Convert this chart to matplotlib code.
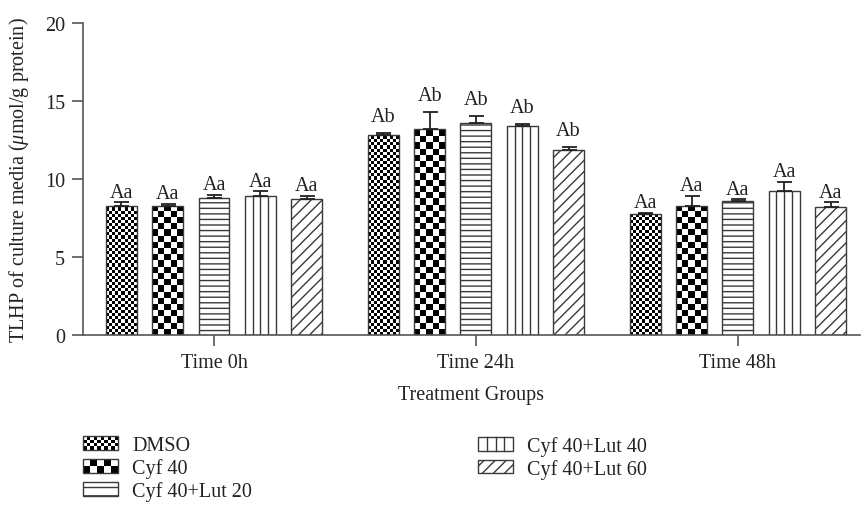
import numpy as np
import matplotlib
matplotlib.use("Agg")
import matplotlib.pyplot as plt
from matplotlib.patches import Rectangle, Patch
from matplotlib.lines import Line2D
from matplotlib.legend_handler import HandlerBase

plt.rcParams["font.family"] = ["Liberation Serif", "DejaVu Serif"]
plt.rcParams["mathtext.fontset"] = "custom"
plt.rcParams["mathtext.rm"] = "Liberation Serif"
plt.rcParams["mathtext.it"] = "Liberation Serif:italic"
plt.rcParams["hatch.linewidth"] = 1.0

## data
groups = ["Time 0h", "Time 24h", "Time 48h"]
treatments = ["DMSO", "Cyf 40", "Cyf 40+Lut 20", "Cyf 40+Lut 40", "Cyf 40+Lut 60"]
dmso = [8.3, 12.85, 7.75]
dmso_err = [0.2, 0.1, 0.1]
cyf40 = [8.25, 13.2, 8.3]
cyf40_err = [0.15, 1.1, 0.6]
lut20 = [8.8, 13.6, 8.6]
lut20_err = [0.2, 0.45, 0.1]
lut40 = [8.9, 13.4, 9.2]
lut40_err = [0.3, 0.1, 0.6]
lut60 = [8.75, 11.85, 8.2]
lut60_err = [0.15, 0.2, 0.3]
letters = ["Aa", "Ab", "Aa"]

means = [dmso, cyf40, lut20, lut40, lut60]
errs = [dmso_err, cyf40_err, lut20_err, lut40_err, lut60_err]

EDGE = "#3a3a3a"
TXT = "#222222"
FS = 14.5
label_gap = [0.5, 5, 0.5]   # points above the cap, per time group

fig = plt.figure(figsize=(8.62, 5.10), dpi=100)
ax = fig.add_axes([83 / 862, 1 - 336 / 510, (860 - 83) / 862, (336 - 24) / 510])
ax.set_xlim(-0.5, 2.466)
ax.set_ylim(0, 20)

x = np.arange(len(groups))
step = 0.1767
width = 0.118


def checker(bar, cell_px):
    x0, y0 = bar.get_x(), bar.get_y()
    w, h = bar.get_width(), bar.get_height()
    p0 = ax.transData.transform((x0, y0))
    p1 = ax.transData.transform((x0 + w, y0 + h))
    nx = max(1, int(round((p1[0] - p0[0]) / cell_px)))
    ny = max(1, int(round((p1[1] - p0[1]) / cell_px)))
    arr = np.add.outer(np.arange(ny), np.arange(nx)) % 2
    top = y0 + ny * cell_px * h / (p1[1] - p0[1])
    im = ax.imshow(arr, cmap="gray", vmin=0, vmax=1, origin="lower",
                   extent=(x0, x0 + w, y0, top), aspect="auto",
                   interpolation="nearest", zorder=1.5)
    im.set_clip_path(bar)


for i, (m, e) in enumerate(zip(means, errs)):
    pos = x + (i - 2) * step
    hatch = {2: "---", 4: "///"}.get(i, None)
    bars = ax.bar(pos, m, width, facecolor="none", edgecolor=EDGE,
                  linewidth=1.0, hatch=hatch, zorder=2)
    if i == 0:
        for b in bars:
            checker(b, 3.1)
    elif i == 1:
        for b in bars:
            checker(b, 6.2)
    elif i == 3:
        for p, v in zip(pos, m):
            ax.vlines([p - width / 4, p, p + width / 4], 0, v,
                      colors=EDGE, linewidth=1.0, zorder=2)
    ax.errorbar(pos, m, yerr=[np.zeros(len(m)), e], fmt="none",
                ecolor="#222", elinewidth=1.3, capsize=5.4, capthick=1.3,
                zorder=3)
    for p, v, ee, lab, g in zip(pos, m, e, letters, label_gap):
        ax.annotate(lab, (p, v + ee), xytext=(0, g), textcoords="offset points",
                    ha="center", va="bottom", fontsize=FS, color=TXT)

ax.set_xlim(-0.5, 2.466)
ax.set_ylim(0, 20)
ax.set_xticks(x)
ax.set_xticklabels(groups)
ax.set_yticks([0, 5, 10, 15, 20])
for s in ["top", "right"]:
    ax.spines[s].set_visible(False)
for s in ["left", "bottom"]:
    ax.spines[s].set_color("#555")
    ax.spines[s].set_linewidth(1.2)
ax.tick_params(length=8, width=1.2, color="#555", labelsize=FS,
               labelcolor=TXT, pad=5)
ax.set_ylabel(r"TLHP of culture media ($\mu$mol/g protein)", fontsize=FS,
              color=TXT, labelpad=10)
ax.set_xlabel("Treatment Groups", fontsize=FS, color=TXT, labelpad=9)


class CheckerHandler(HandlerBase):
    def __init__(self, nx, ny):
        super().__init__()
        self.nx, self.ny = nx, ny

    def create_artists(self, legend, orig_handle, xdescent, ydescent,
                       width, height, fontsize, trans):
        arts = []
        cw, ch = width / self.nx, height / self.ny
        for i in range(self.nx):
            for j in range(self.ny):
                if (i + j) % 2 == 0:
                    arts.append(Rectangle((-xdescent + i * cw, -ydescent + j * ch),
                                          cw, ch, facecolor="black",
                                          edgecolor="none", transform=trans))
        arts.append(Rectangle((-xdescent, -ydescent), width, height,
                              facecolor="none", edgecolor=EDGE, lw=1.0,
                              transform=trans))
        return arts


class VLineHandler(HandlerBase):
    def create_artists(self, legend, orig_handle, xdescent, ydescent,
                       width, height, fontsize, trans):
        arts = [Rectangle((-xdescent, -ydescent), width, height,
                          facecolor="none", edgecolor=EDGE, lw=1.0,
                          transform=trans)]
        for k in (1, 2, 3):
            xx = -xdescent + k * width / 4
            arts.append(Line2D([xx, xx], [-ydescent, -ydescent + height],
                               color=EDGE, lw=1.0, transform=trans))
        return arts


h_dmso = Patch(facecolor="none", edgecolor=EDGE)
h_cyf = Patch(facecolor="none", edgecolor=EDGE)
h_l20 = Patch(facecolor="white", edgecolor=EDGE, hatch="--")
h_l40 = Patch(facecolor="none", edgecolor=EDGE)
h_l60 = Patch(facecolor="white", edgecolor=EDGE, hatch="///")
hmap = {h_dmso: CheckerHandler(10, 4), h_cyf: CheckerHandler(5, 2),
        h_l40: VLineHandler()}

leg_kw = dict(frameon=False, loc="upper left", borderpad=0, borderaxespad=0,
              fontsize=FS, handlelength=1.75, handleheight=0.65,
              handletextpad=0.7, labelspacing=0.15, labelcolor=TXT,
              handler_map=hmap)
fig.legend([h_dmso, h_cyf, h_l20], treatments[:3],
           bbox_to_anchor=(83 / 862, 1 - 437 / 510), **leg_kw)
fig.legend([h_l40, h_l60], treatments[3:],
           bbox_to_anchor=(478 / 862, 1 - 437 / 510), **leg_kw)

fig.savefig("out.png", dpi=100)
